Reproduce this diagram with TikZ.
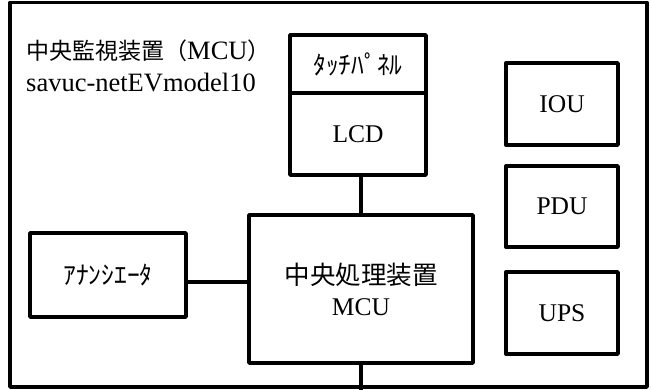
\documentclass[tikz,border=0pt]{standalone}
\usepackage{fontspec}
\setmainfont{Liberation Serif}
\newfontfamily\jp{Noto Sans CJK JP}
\usetikzlibrary{positioning}
\begin{document}
\begin{tikzpicture}[x=1pt,y=-1pt,
    blk/.style={draw,line width=3.4pt,line join=round,inner sep=0pt,outer sep=0pt,
      align=center,font=\fontsize{25.5}{31}\selectfont},
    wire/.style={line width=3.4pt}]
  \useasboundingbox (0,0) rectangle (652,390);
  % outer frame
  \draw[line width=3.6pt,line join=round] (10,2.5) rectangle (647,387);
  \node[anchor=north west,align=left,inner sep=0pt,
    font=\fontsize{26.5}{32}\selectfont] (title) at (26,40)
    {{\jp\fontsize{23}{32}\selectfont 中央監視装置（}MCU{\jp\fontsize{23}{32}\selectfont ）}\\savuc-netEVmodel10};
  %
  \node[blk,minimum width=136pt,minimum height=58pt] (touch) at (358,64) {\jp ﾀｯﾁﾊﾟﾈﾙ};
  \node[blk,minimum width=136pt,minimum height=82pt,below=0pt of touch] (lcd) {LCD};
  \node[blk,minimum width=224pt,minimum height=148pt] (mcu) at (361,289)
    {{\jp 中央処理装置}\\MCU};
  \node[blk,minimum width=156pt,minimum height=84pt] (ann) at (108,275) {\jp ｱﾅﾝｼｴｰﾀ};
  %
  \node[blk,minimum width=112pt,minimum height=82pt] (iou) at (562,104) {IOU};
  \node[blk,minimum width=112pt,minimum height=81pt,below=21pt of iou] (pdu) {PDU};
  \node[blk,minimum width=112pt,minimum height=82pt,below=25pt of pdu] (ups) {UPS};
  %
  \draw[wire] (mcu.north |- lcd.south) -- (mcu.north);
  \draw[wire] ([yshift=-7pt]ann.east) -- ([yshift=-7pt]ann.east -| mcu.west);
  \coordinate[below=30pt of mcu.south] (feed);
  \draw[wire] (mcu.south) -- (feed);
\end{tikzpicture}
\end{document}
